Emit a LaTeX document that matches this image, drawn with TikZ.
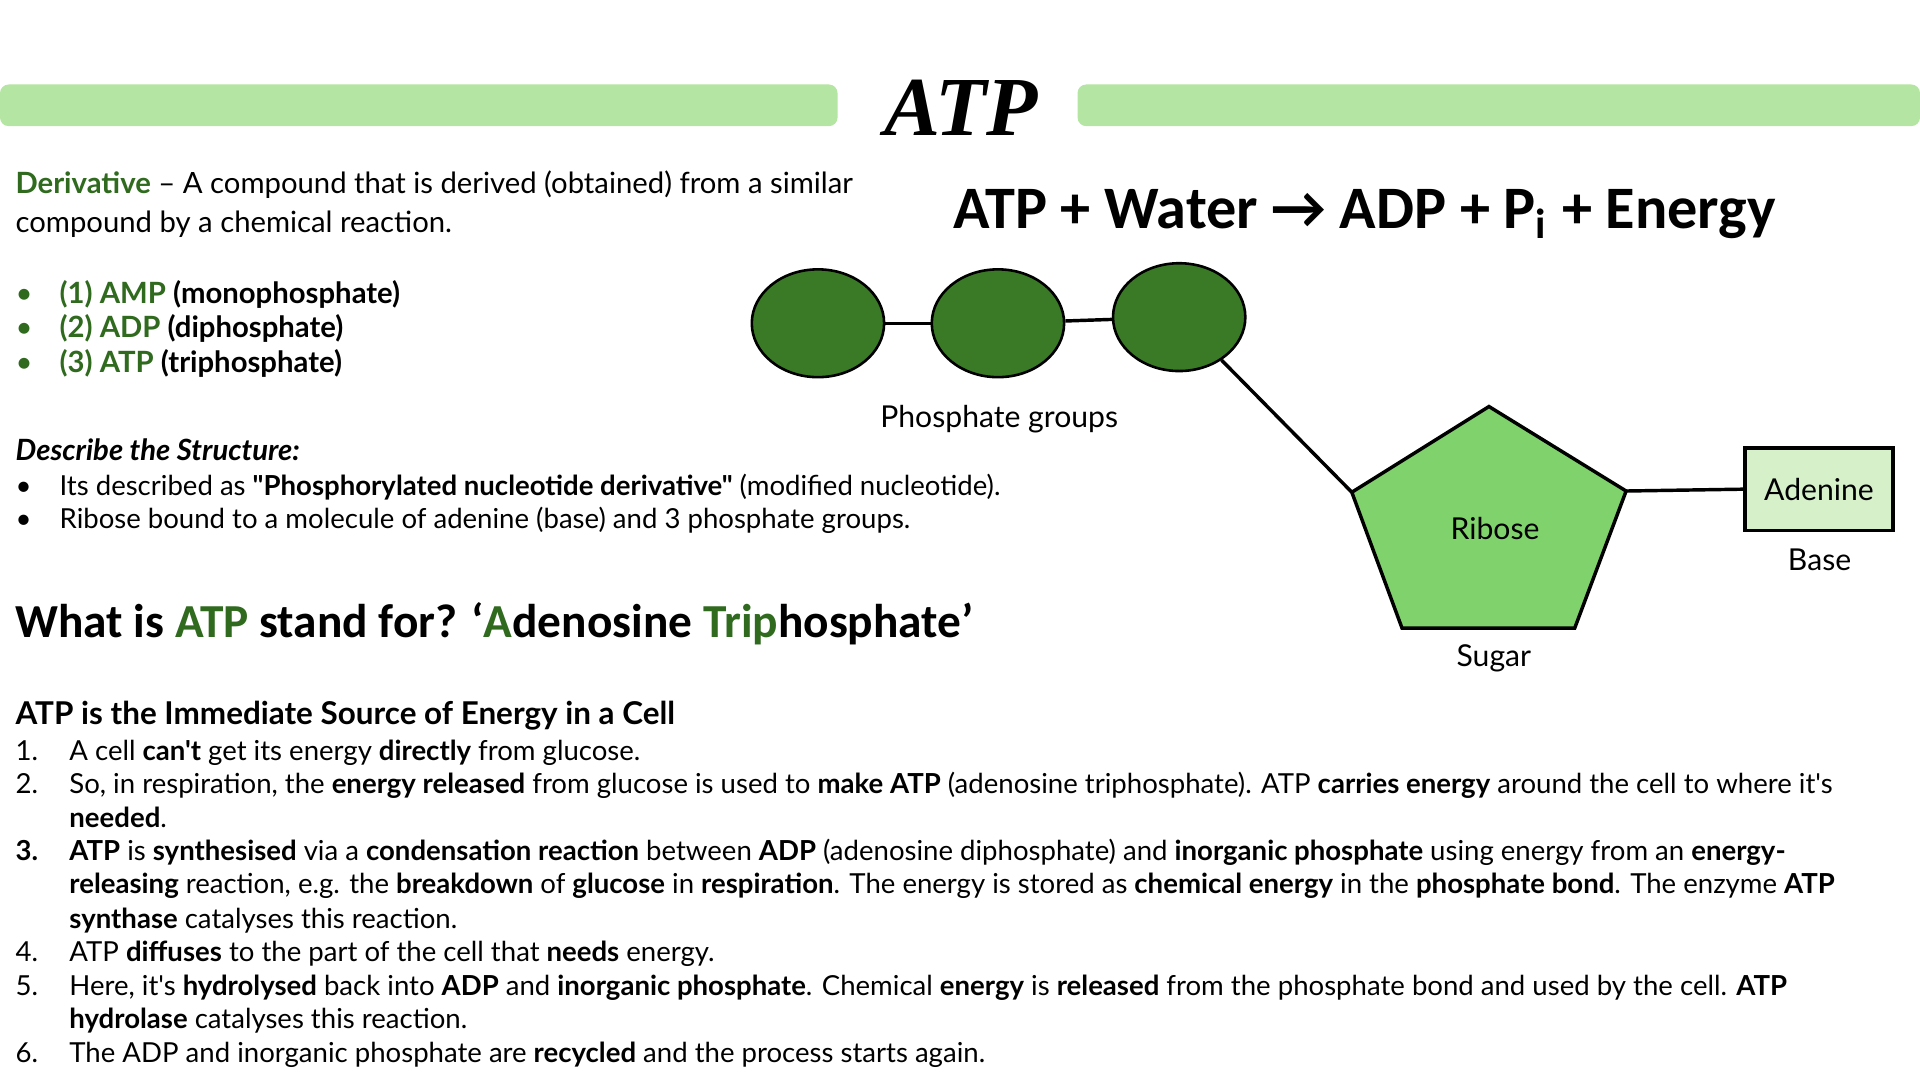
\documentclass[tikz,border=0pt]{standalone}
\usepackage{fontspec}
\setmainfont{Lato}[Ligatures=TeXOff]
\newfontfamily\calib{Carlito}
\newfontfamily\titlefont{Liberation Serif}
\usetikzlibrary{positioning}
\definecolor{barGreen}{HTML}{B4E5A2}
\definecolor{darkGreen}{HTML}{3A7A26}
\definecolor{txtGreen}{HTML}{2F6A1E}
\definecolor{riboseGreen}{HTML}{80D26C}
\definecolor{baseGreen}{HTML}{D6F0C9}
\tikzset{
  txt/.style={anchor=base west, inner sep=0pt, font=\fontsize{6.4}{7}\selectfont},
  big/.style={txt, font=\fontsize{6.8}{8}\selectfont},
  phos/.style={ellipse, draw, line width=0.6pt, fill=darkGreen, minimum width=1.08cm, minimum height=0.88cm},
  lbl/.style={inner sep=0pt, font=\fontsize{7}{8}\selectfont},
  bond/.style={draw, line width=0.8pt}
}
\usetikzlibrary{shapes.geometric}
\begin{document}
\begin{tikzpicture}[x=0.01cm, y=-0.01cm]
  \useasboundingbox (0,0) rectangle (1568,882);
  % Title bars
  \fill[barGreen, rounded corners=2pt] (0,69) rectangle (684,103);
  \fill[barGreen, rounded corners=2pt] (880,69) rectangle (1568,103);
  \node[inner sep=0pt, font=\titlefont\bfseries\itshape\fontsize{19.5}{20}\selectfont] (title) at (785,88) {ATP};
  % Left text
  \node[big] (der1) at (12,158) {\textcolor{txtGreen}{\textbf{Derivative}} – A compound that is derived (obtained) from a similar};
  \node[big] (der2) at (12,190) {compound by a chemical reaction.};
  \foreach \n/\y/\a/\b in {1/248/AMP/monophosphate, 2/276/ADP/diphosphate, 3/304/ATP/triphosphate}{
    \node[big, text=txtGreen] (dot\n) at (12,\y) {•};
    \node[big] (der\n b) at (48,\y) {\textbf{\textcolor{txtGreen}{(\n) \a} (\b)}};
  }
  \node[big] (desc) at (12,376) {\textbf{\itshape Describe the Structure:}};
  \node[txt] (dd1) at (12,405) {•};
  \node[txt] (ds1) at (48,405) {Its described as \textbf{"Phosphorylated nucleotide derivative"} (modified nucleotide).};
  \node[txt] (dd2) at (12,432) {•};
  \node[txt] (ds2) at (48,432) {Ribose bound to a molecule of adenine (base) and 3 phosphate groups.};
  \node[txt, font=\calib\bfseries\fontsize{11}{12}\selectfont] (what) at (12,521)
    {What is \textcolor{txtGreen}{ATP} stand for? ‘\textcolor{txtGreen}{A}denosine \textcolor{txtGreen}{Tri}\textcolor{txtGreen}{p}hosphate’};
  \node[txt, font=\bfseries\fontsize{7.3}{8}\selectfont] (imm) at (12,592) {ATP is the Immediate Source of Energy in a Cell};
  % Numbered list
  \foreach \k/\y/\t in {
    1/621/{A cell \textbf{can't} get its energy \textbf{directly} from glucose.},
    2/648/{So, in respiration, the \textbf{energy released} from glucose is used to \textbf{make ATP} (adenosine triphosphate). ATP \textbf{carries energy} around the cell to where it's},
    3/703/{\textbf{ATP} is \textbf{synthesised} via a \textbf{condensation reaction} between \textbf{ADP} (adenosine diphosphate) and \textbf{inorganic phosphate} using energy from an \textbf{energy-}},
    4/785/{ATP \textbf{diffuses} to the part of the cell that \textbf{needs} energy.},
    5/813/{Here, it's \textbf{hydrolysed} back into \textbf{ADP} and \textbf{inorganic phosphate}. Chemical \textbf{energy} is \textbf{released} from the phosphate bond and used by the cell. \textbf{ATP}},
    6/868/{The ADP and inorganic phosphate are \textbf{recycled} and the process starts again.}}{
    \node[txt] (num\k) at (12,\y) {\ifnum\k=3 \textbf{\k.}\else\k.\fi};
    \node[txt] (item\k) at (56,\y) {\t};
  }
  \node[txt] (item2b) at (56,676) {\textbf{needed}.};
  \node[txt] (item3b) at (56,730) {\textbf{releasing} reaction, e.g. the \textbf{breakdown} of \textbf{glucose} in \textbf{respiration}. The energy is stored as \textbf{chemical energy} in the \textbf{phosphate bond}. The enzyme \textbf{ATP}};
  \node[txt] (item3c) at (56,758) {\textbf{synthase} catalyses this reaction.};
  \node[txt] (item5b) at (56,840) {\textbf{hydrolase} catalyses this reaction.};
  % Equation
  \node[inner sep=0pt, anchor=base west, font=\calib\bfseries\fontsize{14}{15}\selectfont] (eq) at (778,187)
    {ATP + Water \textrightarrow\ ADP + P\textsubscript{i} + Energy};
  % Molecule
  \node[phos] (p1) at (668,264) {};
  \node[phos] (p2) at (815,264) {};
  \node[phos] (p3) at (963,259) {};
  \node[lbl] (plab) at (816,342) {Phosphate groups};
  \coordinate (rtop) at (1216,332);
  \coordinate (rright) at (1328,401);
  \coordinate (rbr) at (1286,513);
  \coordinate (rbl) at (1145,513);
  \coordinate (rleft) at (1104,402);
  \filldraw[fill=riboseGreen, line width=0.8pt] (rtop) -- (rright) -- (rbr) -- (rbl) -- (rleft) -- cycle;
  \node[lbl] (ribose) at (1221,432) {Ribose};
  \node[lbl] (sugar) at (1220,538) {Sugar};
  \node[draw, line width=0.8pt, fill=baseGreen, minimum width=1.21cm, minimum height=0.67cm, inner sep=0pt, font=\fontsize{7}{8}\selectfont] (adenine) at (1485.5,399.5) {Adenine};
  \node[lbl] (base) at (1486,457) {Base};
  \path[bond] (p1) -- (p2);
  \path[bond] (p2) -- (p3);
  \path[bond] (p3) -- (rleft);
  \path[bond] (rright) -- (adenine.west);
\end{tikzpicture}
\end{document}
